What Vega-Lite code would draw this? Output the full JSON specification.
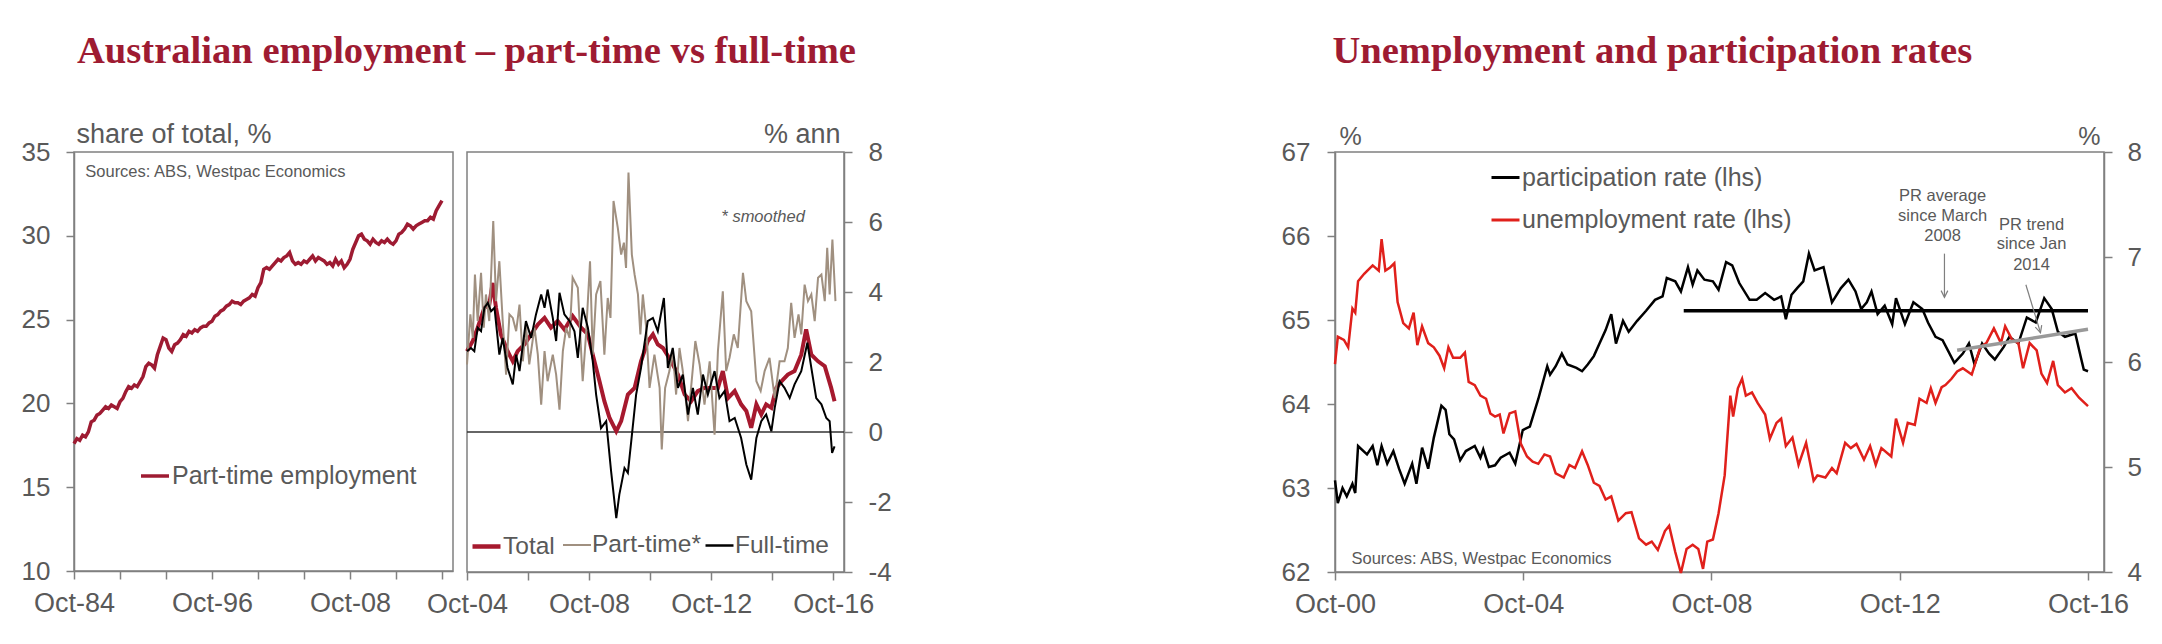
{
  "$schema": "https://vega.github.io/schema/vega-lite/v6.json",
  "background": "white",
  "padding": {"left": 20, "top": 31, "right": 5, "bottom": 5},
  "bounds": "flush",
  "spacing": 14,
  "resolve": {"scale": {"color": "independent"}, "legend": {"color": "independent"}},
  "config": {
    "font": "Liberation Sans",
    "view": {"stroke": "#808080", "strokeWidth": 1.5},
    "axis": {"grid": false, "domainColor": "#808080", "domainWidth": 1.5, "tickColor": "#808080", "tickWidth": 1.5, "tickSize": 8, "labelColor": "#595959", "titleColor": "#595959", "labelFontSize": 26, "titleFontSize": 27, "titleFontWeight": "normal", "labelFont": "Liberation Sans", "titleFont": "Liberation Sans"},
    "legend": {"labelFont": "Liberation Sans", "labelFontSize": 25, "labelColor": "#595959", "symbolType": "stroke", "symbolSize": 784, "padding": 0, "labelOffset": 1, "labelLimit": 0},
    "title": {"font": "Liberation Serif", "fontSize": 38.6, "fontWeight": "bold", "color": "#9E1B32", "anchor": "start", "frame": "group", "baseline": "alphabetic"}
  },
  "datasets": {
    "share": [
      {"s":"Part-time employment","t":1984.75,"v":17.6},{"s":"Part-time employment","t":1985.0,"v":17.9},{"s":"Part-time employment","t":1985.25,"v":17.8},{"s":"Part-time employment","t":1985.5,"v":18.1},{"s":"Part-time employment","t":1985.75,"v":18.0},{"s":"Part-time employment","t":1986.0,"v":18.3},{"s":"Part-time employment","t":1986.25,"v":18.9},{"s":"Part-time employment","t":1986.5,"v":19.0},{"s":"Part-time employment","t":1986.75,"v":19.3},{"s":"Part-time employment","t":1987.0,"v":19.4},{"s":"Part-time employment","t":1987.25,"v":19.6},{"s":"Part-time employment","t":1987.5,"v":19.8},{"s":"Part-time employment","t":1987.75,"v":19.7},{"s":"Part-time employment","t":1988.0,"v":19.9},{"s":"Part-time employment","t":1988.25,"v":19.8},{"s":"Part-time employment","t":1988.5,"v":19.7},{"s":"Part-time employment","t":1988.75,"v":20.1},{"s":"Part-time employment","t":1989.0,"v":20.3},{"s":"Part-time employment","t":1989.25,"v":20.7},{"s":"Part-time employment","t":1989.5,"v":21.0},{"s":"Part-time employment","t":1989.75,"v":20.9},{"s":"Part-time employment","t":1990.0,"v":21.1},{"s":"Part-time employment","t":1990.25,"v":21.0},{"s":"Part-time employment","t":1990.5,"v":21.3},{"s":"Part-time employment","t":1990.75,"v":21.6},{"s":"Part-time employment","t":1991.0,"v":22.2},{"s":"Part-time employment","t":1991.25,"v":22.4},{"s":"Part-time employment","t":1991.5,"v":22.3},{"s":"Part-time employment","t":1991.75,"v":22.1},{"s":"Part-time employment","t":1992.0,"v":22.9},{"s":"Part-time employment","t":1992.25,"v":23.4},{"s":"Part-time employment","t":1992.5,"v":23.9},{"s":"Part-time employment","t":1992.75,"v":23.8},{"s":"Part-time employment","t":1993.0,"v":23.3},{"s":"Part-time employment","t":1993.25,"v":23.1},{"s":"Part-time employment","t":1993.5,"v":23.5},{"s":"Part-time employment","t":1993.75,"v":23.6},{"s":"Part-time employment","t":1994.0,"v":23.8},{"s":"Part-time employment","t":1994.25,"v":24.1},{"s":"Part-time employment","t":1994.5,"v":24.0},{"s":"Part-time employment","t":1994.75,"v":24.3},{"s":"Part-time employment","t":1995.0,"v":24.2},{"s":"Part-time employment","t":1995.25,"v":24.4},{"s":"Part-time employment","t":1995.5,"v":24.3},{"s":"Part-time employment","t":1995.75,"v":24.5},{"s":"Part-time employment","t":1996.0,"v":24.6},{"s":"Part-time employment","t":1996.25,"v":24.6},{"s":"Part-time employment","t":1996.5,"v":24.8},{"s":"Part-time employment","t":1996.75,"v":24.9},{"s":"Part-time employment","t":1997.0,"v":25.2},{"s":"Part-time employment","t":1997.25,"v":25.3},{"s":"Part-time employment","t":1997.5,"v":25.5},{"s":"Part-time employment","t":1997.75,"v":25.6},{"s":"Part-time employment","t":1998.0,"v":25.8},{"s":"Part-time employment","t":1998.25,"v":25.9},{"s":"Part-time employment","t":1998.5,"v":26.1},{"s":"Part-time employment","t":1998.75,"v":26.0},{"s":"Part-time employment","t":1999.0,"v":26.0},{"s":"Part-time employment","t":1999.25,"v":25.9},{"s":"Part-time employment","t":1999.5,"v":26.1},{"s":"Part-time employment","t":1999.75,"v":26.2},{"s":"Part-time employment","t":2000.0,"v":26.3},{"s":"Part-time employment","t":2000.25,"v":26.5},{"s":"Part-time employment","t":2000.5,"v":26.4},{"s":"Part-time employment","t":2000.75,"v":26.9},{"s":"Part-time employment","t":2001.0,"v":27.2},{"s":"Part-time employment","t":2001.25,"v":28.0},{"s":"Part-time employment","t":2001.5,"v":28.1},{"s":"Part-time employment","t":2001.75,"v":28.0},{"s":"Part-time employment","t":2002.0,"v":28.2},{"s":"Part-time employment","t":2002.25,"v":28.4},{"s":"Part-time employment","t":2002.5,"v":28.6},{"s":"Part-time employment","t":2002.75,"v":28.5},{"s":"Part-time employment","t":2003.0,"v":28.7},{"s":"Part-time employment","t":2003.25,"v":28.8},{"s":"Part-time employment","t":2003.5,"v":29.0},{"s":"Part-time employment","t":2003.75,"v":28.5},{"s":"Part-time employment","t":2004.0,"v":28.3},{"s":"Part-time employment","t":2004.25,"v":28.4},{"s":"Part-time employment","t":2004.5,"v":28.3},{"s":"Part-time employment","t":2004.75,"v":28.5},{"s":"Part-time employment","t":2005.0,"v":28.4},{"s":"Part-time employment","t":2005.25,"v":28.6},{"s":"Part-time employment","t":2005.5,"v":28.8},{"s":"Part-time employment","t":2005.75,"v":28.5},{"s":"Part-time employment","t":2006.0,"v":28.7},{"s":"Part-time employment","t":2006.25,"v":28.6},{"s":"Part-time employment","t":2006.5,"v":28.5},{"s":"Part-time employment","t":2006.75,"v":28.3},{"s":"Part-time employment","t":2007.0,"v":28.4},{"s":"Part-time employment","t":2007.25,"v":28.2},{"s":"Part-time employment","t":2007.5,"v":28.6},{"s":"Part-time employment","t":2007.75,"v":28.3},{"s":"Part-time employment","t":2008.0,"v":28.5},{"s":"Part-time employment","t":2008.25,"v":28.1},{"s":"Part-time employment","t":2008.5,"v":28.3},{"s":"Part-time employment","t":2008.75,"v":28.6},{"s":"Part-time employment","t":2009.0,"v":29.2},{"s":"Part-time employment","t":2009.25,"v":29.6},{"s":"Part-time employment","t":2009.5,"v":30.0},{"s":"Part-time employment","t":2009.75,"v":30.1},{"s":"Part-time employment","t":2010.0,"v":29.8},{"s":"Part-time employment","t":2010.25,"v":29.7},{"s":"Part-time employment","t":2010.5,"v":29.5},{"s":"Part-time employment","t":2010.75,"v":29.8},{"s":"Part-time employment","t":2011.0,"v":29.6},{"s":"Part-time employment","t":2011.25,"v":29.5},{"s":"Part-time employment","t":2011.5,"v":29.7},{"s":"Part-time employment","t":2011.75,"v":29.6},{"s":"Part-time employment","t":2012.0,"v":29.8},{"s":"Part-time employment","t":2012.25,"v":29.6},{"s":"Part-time employment","t":2012.5,"v":29.5},{"s":"Part-time employment","t":2012.75,"v":29.7},{"s":"Part-time employment","t":2013.0,"v":30.1},{"s":"Part-time employment","t":2013.25,"v":30.2},{"s":"Part-time employment","t":2013.5,"v":30.4},{"s":"Part-time employment","t":2013.75,"v":30.7},{"s":"Part-time employment","t":2014.0,"v":30.6},{"s":"Part-time employment","t":2014.25,"v":30.4},{"s":"Part-time employment","t":2014.5,"v":30.6},{"s":"Part-time employment","t":2014.75,"v":30.7},{"s":"Part-time employment","t":2015.0,"v":30.8},{"s":"Part-time employment","t":2015.25,"v":30.9},{"s":"Part-time employment","t":2015.5,"v":30.9},{"s":"Part-time employment","t":2015.75,"v":31.1},{"s":"Part-time employment","t":2016.0,"v":31.0},{"s":"Part-time employment","t":2016.25,"v":31.5},{"s":"Part-time employment","t":2016.5,"v":31.8},{"s":"Part-time employment","t":2016.75,"v":32.1}
    ],
    "total": [
      {"s":"Total","t":2004.75,"v":2.31},{"s":"Total","t":2004.94,"v":2.6},{"s":"Total","t":2005.10,"v":2.98},{"s":"Total","t":2005.32,"v":3.55},{"s":"Total","t":2005.48,"v":3.64},{"s":"Total","t":2005.59,"v":4.26},{"s":"Total","t":2005.70,"v":3.55},{"s":"Total","t":2005.86,"v":2.79},{"s":"Total","t":2006.08,"v":2.31},{"s":"Total","t":2006.25,"v":2.02},{"s":"Total","t":2006.41,"v":2.31},{"s":"Total","t":2006.63,"v":2.5},{"s":"Total","t":2006.85,"v":2.79},{"s":"Total","t":2007.07,"v":3.07},{"s":"Total","t":2007.29,"v":3.26},{"s":"Total","t":2007.50,"v":2.98},{"s":"Total","t":2007.72,"v":3.17},{"s":"Total","t":2007.94,"v":2.93},{"s":"Total","t":2008.21,"v":3.31},{"s":"Total","t":2008.49,"v":2.98},{"s":"Total","t":2008.71,"v":2.79},{"s":"Total","t":2008.87,"v":2.21},{"s":"Total","t":2009.09,"v":1.45},{"s":"Total","t":2009.25,"v":0.88},{"s":"Total","t":2009.42,"v":0.4},{"s":"Total","t":2009.64,"v":0.02},{"s":"Total","t":2009.80,"v":0.31},{"s":"Total","t":2010.02,"v":1.07},{"s":"Total","t":2010.24,"v":1.26},{"s":"Total","t":2010.45,"v":2.02},{"s":"Total","t":2010.67,"v":2.59},{"s":"Total","t":2010.84,"v":2.79},{"s":"Total","t":2011.00,"v":2.5},{"s":"Total","t":2011.17,"v":2.4},{"s":"Total","t":2011.44,"v":2.02},{"s":"Total","t":2011.66,"v":1.64},{"s":"Total","t":2011.88,"v":1.07},{"s":"Total","t":2012.09,"v":0.88},{"s":"Total","t":2012.31,"v":1.17},{"s":"Total","t":2012.53,"v":1.26},{"s":"Total","t":2012.75,"v":1.26},{"s":"Total","t":2012.97,"v":1.26},{"s":"Total","t":2013.13,"v":1.74},{"s":"Total","t":2013.30,"v":0.97},{"s":"Total","t":2013.52,"v":1.17},{"s":"Total","t":2013.73,"v":0.79},{"s":"Total","t":2013.90,"v":0.6},{"s":"Total","t":2014.06,"v":0.12},{"s":"Total","t":2014.23,"v":0.79},{"s":"Total","t":2014.39,"v":0.5},{"s":"Total","t":2014.55,"v":0.79},{"s":"Total","t":2014.72,"v":0.69},{"s":"Total","t":2014.88,"v":1.26},{"s":"Total","t":2015.05,"v":1.45},{"s":"Total","t":2015.26,"v":1.64},{"s":"Total","t":2015.48,"v":1.74},{"s":"Total","t":2015.70,"v":2.21},{"s":"Total","t":2015.86,"v":2.93},{"s":"Total","t":2016.03,"v":2.21},{"s":"Total","t":2016.25,"v":2.02},{"s":"Total","t":2016.47,"v":1.88},{"s":"Total","t":2016.68,"v":1.26},{"s":"Total","t":2016.79,"v":0.88}
    ],
    "parttime": [
      {"s":"Part-time*","t":2004.75,"v":1.93},{"s":"Part-time*","t":2004.86,"v":3.36},{"s":"Part-time*","t":2004.94,"v":2.69},{"s":"Part-time*","t":2005.01,"v":4.5},{"s":"Part-time*","t":2005.10,"v":3.17},{"s":"Part-time*","t":2005.21,"v":4.55},{"s":"Part-time*","t":2005.30,"v":2.98},{"s":"Part-time*","t":2005.37,"v":3.93},{"s":"Part-time*","t":2005.48,"v":3.17},{"s":"Part-time*","t":2005.61,"v":6.03},{"s":"Part-time*","t":2005.70,"v":3.74},{"s":"Part-time*","t":2005.81,"v":4.88},{"s":"Part-time*","t":2005.92,"v":3.17},{"s":"Part-time*","t":2006.03,"v":1.64},{"s":"Part-time*","t":2006.14,"v":3.36},{"s":"Part-time*","t":2006.25,"v":3.26},{"s":"Part-time*","t":2006.36,"v":2.88},{"s":"Part-time*","t":2006.47,"v":3.64},{"s":"Part-time*","t":2006.58,"v":2.02},{"s":"Part-time*","t":2006.68,"v":3.07},{"s":"Part-time*","t":2006.79,"v":1.93},{"s":"Part-time*","t":2006.96,"v":2.98},{"s":"Part-time*","t":2007.07,"v":2.21},{"s":"Part-time*","t":2007.18,"v":0.78},{"s":"Part-time*","t":2007.29,"v":2.31},{"s":"Part-time*","t":2007.39,"v":1.45},{"s":"Part-time*","t":2007.56,"v":2.21},{"s":"Part-time*","t":2007.67,"v":1.64},{"s":"Part-time*","t":2007.78,"v":0.64},{"s":"Part-time*","t":2007.89,"v":2.31},{"s":"Part-time*","t":2008.00,"v":2.98},{"s":"Part-time*","t":2008.11,"v":2.69},{"s":"Part-time*","t":2008.21,"v":4.41},{"s":"Part-time*","t":2008.38,"v":4.12},{"s":"Part-time*","t":2008.54,"v":1.45},{"s":"Part-time*","t":2008.65,"v":2.79},{"s":"Part-time*","t":2008.78,"v":4.88},{"s":"Part-time*","t":2008.87,"v":2.21},{"s":"Part-time*","t":2008.98,"v":3.93},{"s":"Part-time*","t":2009.12,"v":4.31},{"s":"Part-time*","t":2009.25,"v":2.21},{"s":"Part-time*","t":2009.36,"v":3.83},{"s":"Part-time*","t":2009.45,"v":3.26},{"s":"Part-time*","t":2009.55,"v":6.6},{"s":"Part-time*","t":2009.69,"v":5.83},{"s":"Part-time*","t":2009.80,"v":5.07},{"s":"Part-time*","t":2009.89,"v":5.41},{"s":"Part-time*","t":2009.96,"v":4.69},{"s":"Part-time*","t":2010.04,"v":7.41},{"s":"Part-time*","t":2010.15,"v":5.07},{"s":"Part-time*","t":2010.24,"v":4.5},{"s":"Part-time*","t":2010.35,"v":3.93},{"s":"Part-time*","t":2010.43,"v":2.79},{"s":"Part-time*","t":2010.51,"v":3.93},{"s":"Part-time*","t":2010.62,"v":2.98},{"s":"Part-time*","t":2010.73,"v":1.26},{"s":"Part-time*","t":2010.89,"v":2.21},{"s":"Part-time*","t":2011.06,"v":1.26},{"s":"Part-time*","t":2011.13,"v":-0.5},{"s":"Part-time*","t":2011.24,"v":1.26},{"s":"Part-time*","t":2011.38,"v":1.74},{"s":"Part-time*","t":2011.49,"v":2.31},{"s":"Part-time*","t":2011.60,"v":1.07},{"s":"Part-time*","t":2011.71,"v":2.4},{"s":"Part-time*","t":2011.82,"v":1.74},{"s":"Part-time*","t":2011.99,"v":0.31},{"s":"Part-time*","t":2012.09,"v":1.26},{"s":"Part-time*","t":2012.23,"v":2.6},{"s":"Part-time*","t":2012.37,"v":1.93},{"s":"Part-time*","t":2012.53,"v":0.78},{"s":"Part-time*","t":2012.70,"v":2.02},{"s":"Part-time*","t":2012.86,"v":-0.08},{"s":"Part-time*","t":2012.97,"v":2.31},{"s":"Part-time*","t":2013.13,"v":4.02},{"s":"Part-time*","t":2013.24,"v":1.74},{"s":"Part-time*","t":2013.35,"v":2.12},{"s":"Part-time*","t":2013.49,"v":2.79},{"s":"Part-time*","t":2013.62,"v":2.4},{"s":"Part-time*","t":2013.79,"v":4.55},{"s":"Part-time*","t":2013.90,"v":3.74},{"s":"Part-time*","t":2014.06,"v":3.45},{"s":"Part-time*","t":2014.23,"v":1.45},{"s":"Part-time*","t":2014.37,"v":1.17},{"s":"Part-time*","t":2014.50,"v":1.74},{"s":"Part-time*","t":2014.66,"v":2.12},{"s":"Part-time*","t":2014.83,"v":0.97},{"s":"Part-time*","t":2014.99,"v":2.02},{"s":"Part-time*","t":2015.15,"v":2.02},{"s":"Part-time*","t":2015.26,"v":2.4},{"s":"Part-time*","t":2015.37,"v":3.69},{"s":"Part-time*","t":2015.48,"v":2.69},{"s":"Part-time*","t":2015.61,"v":3.36},{"s":"Part-time*","t":2015.70,"v":2.79},{"s":"Part-time*","t":2015.81,"v":4.21},{"s":"Part-time*","t":2015.92,"v":3.74},{"s":"Part-time*","t":2016.03,"v":3.93},{"s":"Part-time*","t":2016.14,"v":3.17},{"s":"Part-time*","t":2016.25,"v":4.41},{"s":"Part-time*","t":2016.36,"v":4.5},{"s":"Part-time*","t":2016.47,"v":3.74},{"s":"Part-time*","t":2016.55,"v":5.26},{"s":"Part-time*","t":2016.63,"v":3.93},{"s":"Part-time*","t":2016.72,"v":5.5},{"s":"Part-time*","t":2016.82,"v":3.74}
    ],
    "fulltime": [
      {"s":"Full-time","t":2004.75,"v":2.31},{"s":"Full-time","t":2004.88,"v":2.4},{"s":"Full-time","t":2004.99,"v":2.31},{"s":"Full-time","t":2005.10,"v":2.98},{"s":"Full-time","t":2005.21,"v":2.88},{"s":"Full-time","t":2005.32,"v":3.55},{"s":"Full-time","t":2005.43,"v":3.69},{"s":"Full-time","t":2005.54,"v":3.45},{"s":"Full-time","t":2005.65,"v":3.55},{"s":"Full-time","t":2005.81,"v":2.21},{"s":"Full-time","t":2005.92,"v":2.69},{"s":"Full-time","t":2006.08,"v":1.83},{"s":"Full-time","t":2006.25,"v":1.36},{"s":"Full-time","t":2006.36,"v":2.21},{"s":"Full-time","t":2006.47,"v":1.74},{"s":"Full-time","t":2006.68,"v":3.17},{"s":"Full-time","t":2006.85,"v":2.69},{"s":"Full-time","t":2007.01,"v":3.36},{"s":"Full-time","t":2007.18,"v":3.93},{"s":"Full-time","t":2007.29,"v":3.55},{"s":"Full-time","t":2007.39,"v":4.07},{"s":"Full-time","t":2007.56,"v":3.26},{"s":"Full-time","t":2007.67,"v":2.6},{"s":"Full-time","t":2007.78,"v":3.98},{"s":"Full-time","t":2007.94,"v":3.36},{"s":"Full-time","t":2008.11,"v":3.17},{"s":"Full-time","t":2008.27,"v":2.88},{"s":"Full-time","t":2008.38,"v":2.12},{"s":"Full-time","t":2008.54,"v":3.55},{"s":"Full-time","t":2008.71,"v":2.98},{"s":"Full-time","t":2008.87,"v":2.02},{"s":"Full-time","t":2008.98,"v":1.07},{"s":"Full-time","t":2009.14,"v":0.11},{"s":"Full-time","t":2009.31,"v":0.31},{"s":"Full-time","t":2009.47,"v":-1.12},{"s":"Full-time","t":2009.64,"v":-2.46},{"s":"Full-time","t":2009.74,"v":-1.79},{"s":"Full-time","t":2009.91,"v":-1.03},{"s":"Full-time","t":2010.02,"v":-1.17},{"s":"Full-time","t":2010.13,"v":-0.27},{"s":"Full-time","t":2010.29,"v":1.07},{"s":"Full-time","t":2010.45,"v":1.83},{"s":"Full-time","t":2010.67,"v":3.17},{"s":"Full-time","t":2010.84,"v":3.26},{"s":"Full-time","t":2011.00,"v":2.88},{"s":"Full-time","t":2011.20,"v":3.83},{"s":"Full-time","t":2011.33,"v":1.83},{"s":"Full-time","t":2011.49,"v":2.4},{"s":"Full-time","t":2011.66,"v":1.26},{"s":"Full-time","t":2011.82,"v":1.64},{"s":"Full-time","t":2011.99,"v":0.5},{"s":"Full-time","t":2012.15,"v":1.26},{"s":"Full-time","t":2012.31,"v":0.5},{"s":"Full-time","t":2012.48,"v":1.64},{"s":"Full-time","t":2012.64,"v":1.07},{"s":"Full-time","t":2012.86,"v":1.74},{"s":"Full-time","t":2013.02,"v":0.97},{"s":"Full-time","t":2013.19,"v":1.17},{"s":"Full-time","t":2013.35,"v":0.31},{"s":"Full-time","t":2013.52,"v":0.4},{"s":"Full-time","t":2013.73,"v":-0.17},{"s":"Full-time","t":2013.90,"v":-0.93},{"s":"Full-time","t":2014.06,"v":-1.36},{"s":"Full-time","t":2014.23,"v":-0.17},{"s":"Full-time","t":2014.39,"v":0.31},{"s":"Full-time","t":2014.55,"v":0.5},{"s":"Full-time","t":2014.72,"v":0.02},{"s":"Full-time","t":2014.83,"v":0.69},{"s":"Full-time","t":2014.99,"v":1.45},{"s":"Full-time","t":2015.15,"v":1.26},{"s":"Full-time","t":2015.32,"v":0.97},{"s":"Full-time","t":2015.48,"v":1.36},{"s":"Full-time","t":2015.70,"v":1.74},{"s":"Full-time","t":2015.90,"v":2.55},{"s":"Full-time","t":2016.03,"v":1.83},{"s":"Full-time","t":2016.19,"v":0.97},{"s":"Full-time","t":2016.36,"v":0.79},{"s":"Full-time","t":2016.52,"v":0.4},{"s":"Full-time","t":2016.63,"v":0.31},{"s":"Full-time","t":2016.71,"v":-0.6},{"s":"Full-time","t":2016.79,"v":-0.41}
    ],
    "pr": [
      {"s":"participation rate (lhs)","t":2000.75,"v":63.09},{"s":"participation rate (lhs)","t":2000.81,"v":62.82},{"s":"participation rate (lhs)","t":2000.91,"v":63.0},{"s":"participation rate (lhs)","t":2001.00,"v":62.9},{"s":"participation rate (lhs)","t":2001.12,"v":63.05},{"s":"participation rate (lhs)","t":2001.18,"v":62.94},{"s":"participation rate (lhs)","t":2001.24,"v":63.5},{"s":"participation rate (lhs)","t":2001.43,"v":63.4},{"s":"participation rate (lhs)","t":2001.55,"v":63.5},{"s":"participation rate (lhs)","t":2001.65,"v":63.27},{"s":"participation rate (lhs)","t":2001.74,"v":63.5},{"s":"participation rate (lhs)","t":2001.86,"v":63.29},{"s":"participation rate (lhs)","t":2001.99,"v":63.44},{"s":"participation rate (lhs)","t":2002.11,"v":63.23},{"s":"participation rate (lhs)","t":2002.23,"v":63.05},{"s":"participation rate (lhs)","t":2002.39,"v":63.29},{"s":"participation rate (lhs)","t":2002.48,"v":63.05},{"s":"participation rate (lhs)","t":2002.60,"v":63.48},{"s":"participation rate (lhs)","t":2002.73,"v":63.23},{"s":"participation rate (lhs)","t":2002.85,"v":63.6},{"s":"participation rate (lhs)","t":2003.01,"v":63.98},{"s":"participation rate (lhs)","t":2003.10,"v":63.93},{"s":"participation rate (lhs)","t":2003.18,"v":63.64},{"s":"participation rate (lhs)","t":2003.28,"v":63.58},{"s":"participation rate (lhs)","t":2003.41,"v":63.33},{"s":"participation rate (lhs)","t":2003.53,"v":63.44},{"s":"participation rate (lhs)","t":2003.72,"v":63.5},{"s":"participation rate (lhs)","t":2003.84,"v":63.36},{"s":"participation rate (lhs)","t":2003.90,"v":63.46},{"s":"participation rate (lhs)","t":2004.02,"v":63.25},{"s":"participation rate (lhs)","t":2004.15,"v":63.27},{"s":"participation rate (lhs)","t":2004.27,"v":63.36},{"s":"participation rate (lhs)","t":2004.46,"v":63.42},{"s":"participation rate (lhs)","t":2004.58,"v":63.29},{"s":"participation rate (lhs)","t":2004.74,"v":63.69},{"s":"participation rate (lhs)","t":2004.89,"v":63.73},{"s":"participation rate (lhs)","t":2005.07,"v":64.06},{"s":"participation rate (lhs)","t":2005.26,"v":64.45},{"s":"participation rate (lhs)","t":2005.32,"v":64.35},{"s":"participation rate (lhs)","t":2005.44,"v":64.45},{"s":"participation rate (lhs)","t":2005.57,"v":64.6},{"s":"participation rate (lhs)","t":2005.69,"v":64.47},{"s":"participation rate (lhs)","t":2005.88,"v":64.43},{"s":"participation rate (lhs)","t":2006.00,"v":64.39},{"s":"participation rate (lhs)","t":2006.12,"v":64.47},{"s":"participation rate (lhs)","t":2006.25,"v":64.57},{"s":"participation rate (lhs)","t":2006.37,"v":64.72},{"s":"participation rate (lhs)","t":2006.50,"v":64.88},{"s":"participation rate (lhs)","t":2006.62,"v":65.07},{"s":"participation rate (lhs)","t":2006.72,"v":64.72},{"s":"participation rate (lhs)","t":2006.87,"v":64.99},{"s":"participation rate (lhs)","t":2006.99,"v":64.86},{"s":"participation rate (lhs)","t":2007.17,"v":64.99},{"s":"participation rate (lhs)","t":2007.36,"v":65.11},{"s":"participation rate (lhs)","t":2007.55,"v":65.24},{"s":"participation rate (lhs)","t":2007.71,"v":65.28},{"s":"participation rate (lhs)","t":2007.80,"v":65.5},{"s":"participation rate (lhs)","t":2007.98,"v":65.46},{"s":"participation rate (lhs)","t":2008.10,"v":65.34},{"s":"participation rate (lhs)","t":2008.25,"v":65.63},{"s":"participation rate (lhs)","t":2008.35,"v":65.42},{"s":"participation rate (lhs)","t":2008.45,"v":65.59},{"s":"participation rate (lhs)","t":2008.60,"v":65.48},{"s":"participation rate (lhs)","t":2008.78,"v":65.46},{"s":"participation rate (lhs)","t":2008.90,"v":65.36},{"s":"participation rate (lhs)","t":2009.06,"v":65.69},{"s":"participation rate (lhs)","t":2009.19,"v":65.65},{"s":"participation rate (lhs)","t":2009.34,"v":65.44},{"s":"participation rate (lhs)","t":2009.56,"v":65.24},{"s":"participation rate (lhs)","t":2009.71,"v":65.24},{"s":"participation rate (lhs)","t":2009.89,"v":65.32},{"s":"participation rate (lhs)","t":2010.08,"v":65.24},{"s":"participation rate (lhs)","t":2010.23,"v":65.28},{"s":"participation rate (lhs)","t":2010.33,"v":65.01},{"s":"participation rate (lhs)","t":2010.45,"v":65.3},{"s":"participation rate (lhs)","t":2010.57,"v":65.38},{"s":"participation rate (lhs)","t":2010.70,"v":65.46},{"s":"participation rate (lhs)","t":2010.82,"v":65.79},{"s":"participation rate (lhs)","t":2010.94,"v":65.59},{"s":"participation rate (lhs)","t":2011.13,"v":65.63},{"s":"participation rate (lhs)","t":2011.31,"v":65.21},{"s":"participation rate (lhs)","t":2011.50,"v":65.38},{"s":"participation rate (lhs)","t":2011.66,"v":65.48},{"s":"participation rate (lhs)","t":2011.81,"v":65.34},{"s":"participation rate (lhs)","t":2011.93,"v":65.13},{"s":"participation rate (lhs)","t":2012.05,"v":65.21},{"s":"participation rate (lhs)","t":2012.15,"v":65.34},{"s":"participation rate (lhs)","t":2012.28,"v":65.07},{"s":"participation rate (lhs)","t":2012.43,"v":65.17},{"s":"participation rate (lhs)","t":2012.59,"v":64.95},{"s":"participation rate (lhs)","t":2012.67,"v":65.26},{"s":"participation rate (lhs)","t":2012.86,"v":64.95},{"s":"participation rate (lhs)","t":2013.04,"v":65.21},{"s":"participation rate (lhs)","t":2013.23,"v":65.13},{"s":"participation rate (lhs)","t":2013.35,"v":64.97},{"s":"participation rate (lhs)","t":2013.51,"v":64.8},{"s":"participation rate (lhs)","t":2013.66,"v":64.76},{"s":"participation rate (lhs)","t":2013.91,"v":64.49},{"s":"participation rate (lhs)","t":2014.09,"v":64.6},{"s":"participation rate (lhs)","t":2014.22,"v":64.72},{"s":"participation rate (lhs)","t":2014.34,"v":64.47},{"s":"participation rate (lhs)","t":2014.50,"v":64.72},{"s":"participation rate (lhs)","t":2014.65,"v":64.6},{"s":"participation rate (lhs)","t":2014.77,"v":64.53},{"s":"participation rate (lhs)","t":2014.96,"v":64.68},{"s":"participation rate (lhs)","t":2015.08,"v":64.8},{"s":"participation rate (lhs)","t":2015.27,"v":64.72},{"s":"participation rate (lhs)","t":2015.45,"v":65.03},{"s":"participation rate (lhs)","t":2015.64,"v":64.97},{"s":"participation rate (lhs)","t":2015.82,"v":65.26},{"s":"participation rate (lhs)","t":2015.98,"v":65.13},{"s":"participation rate (lhs)","t":2016.11,"v":64.86},{"s":"participation rate (lhs)","t":2016.26,"v":64.8},{"s":"participation rate (lhs)","t":2016.48,"v":64.84},{"s":"participation rate (lhs)","t":2016.60,"v":64.55},{"s":"participation rate (lhs)","t":2016.66,"v":64.41},{"s":"participation rate (lhs)","t":2016.75,"v":64.39}
    ],
    "ur": [
      {"s":"unemployment rate (lhs)","t":2000.75,"v":5.98},{"s":"unemployment rate (lhs)","t":2000.81,"v":6.24},{"s":"unemployment rate (lhs)","t":2000.94,"v":6.21},{"s":"unemployment rate (lhs)","t":2001.03,"v":6.14},{"s":"unemployment rate (lhs)","t":2001.12,"v":6.51},{"s":"unemployment rate (lhs)","t":2001.18,"v":6.47},{"s":"unemployment rate (lhs)","t":2001.24,"v":6.77},{"s":"unemployment rate (lhs)","t":2001.37,"v":6.84},{"s":"unemployment rate (lhs)","t":2001.55,"v":6.92},{"s":"unemployment rate (lhs)","t":2001.68,"v":6.87},{"s":"unemployment rate (lhs)","t":2001.74,"v":7.17},{"s":"unemployment rate (lhs)","t":2001.82,"v":6.87},{"s":"unemployment rate (lhs)","t":2001.92,"v":6.9},{"s":"unemployment rate (lhs)","t":2002.01,"v":6.94},{"s":"unemployment rate (lhs)","t":2002.08,"v":6.57},{"s":"unemployment rate (lhs)","t":2002.20,"v":6.37},{"s":"unemployment rate (lhs)","t":2002.32,"v":6.32},{"s":"unemployment rate (lhs)","t":2002.42,"v":6.47},{"s":"unemployment rate (lhs)","t":2002.50,"v":6.16},{"s":"unemployment rate (lhs)","t":2002.60,"v":6.34},{"s":"unemployment rate (lhs)","t":2002.73,"v":6.18},{"s":"unemployment rate (lhs)","t":2002.85,"v":6.14},{"s":"unemployment rate (lhs)","t":2002.97,"v":6.06},{"s":"unemployment rate (lhs)","t":2003.07,"v":5.94},{"s":"unemployment rate (lhs)","t":2003.16,"v":6.14},{"s":"unemployment rate (lhs)","t":2003.26,"v":6.04},{"s":"unemployment rate (lhs)","t":2003.41,"v":6.04},{"s":"unemployment rate (lhs)","t":2003.51,"v":6.09},{"s":"unemployment rate (lhs)","t":2003.59,"v":5.81},{"s":"unemployment rate (lhs)","t":2003.72,"v":5.78},{"s":"unemployment rate (lhs)","t":2003.84,"v":5.68},{"s":"unemployment rate (lhs)","t":2003.96,"v":5.65},{"s":"unemployment rate (lhs)","t":2004.05,"v":5.51},{"s":"unemployment rate (lhs)","t":2004.15,"v":5.48},{"s":"unemployment rate (lhs)","t":2004.25,"v":5.5},{"s":"unemployment rate (lhs)","t":2004.33,"v":5.32},{"s":"unemployment rate (lhs)","t":2004.46,"v":5.51},{"s":"unemployment rate (lhs)","t":2004.58,"v":5.53},{"s":"unemployment rate (lhs)","t":2004.70,"v":5.22},{"s":"unemployment rate (lhs)","t":2004.83,"v":5.1},{"s":"unemployment rate (lhs)","t":2004.95,"v":5.05},{"s":"unemployment rate (lhs)","t":2005.07,"v":5.03},{"s":"unemployment rate (lhs)","t":2005.20,"v":5.12},{"s":"unemployment rate (lhs)","t":2005.32,"v":5.1},{"s":"unemployment rate (lhs)","t":2005.44,"v":4.94},{"s":"unemployment rate (lhs)","t":2005.61,"v":4.9},{"s":"unemployment rate (lhs)","t":2005.73,"v":5.02},{"s":"unemployment rate (lhs)","t":2005.85,"v":4.99},{"s":"unemployment rate (lhs)","t":2006.00,"v":5.15},{"s":"unemployment rate (lhs)","t":2006.12,"v":5.02},{"s":"unemployment rate (lhs)","t":2006.25,"v":4.85},{"s":"unemployment rate (lhs)","t":2006.37,"v":4.82},{"s":"unemployment rate (lhs)","t":2006.50,"v":4.69},{"s":"unemployment rate (lhs)","t":2006.62,"v":4.72},{"s":"unemployment rate (lhs)","t":2006.77,"v":4.49},{"s":"unemployment rate (lhs)","t":2006.93,"v":4.56},{"s":"unemployment rate (lhs)","t":2007.05,"v":4.57},{"s":"unemployment rate (lhs)","t":2007.21,"v":4.32},{"s":"unemployment rate (lhs)","t":2007.36,"v":4.26},{"s":"unemployment rate (lhs)","t":2007.48,"v":4.29},{"s":"unemployment rate (lhs)","t":2007.61,"v":4.21},{"s":"unemployment rate (lhs)","t":2007.76,"v":4.39},{"s":"unemployment rate (lhs)","t":2007.85,"v":4.44},{"s":"unemployment rate (lhs)","t":2007.98,"v":4.19},{"s":"unemployment rate (lhs)","t":2008.10,"v":3.99},{"s":"unemployment rate (lhs)","t":2008.22,"v":4.22},{"s":"unemployment rate (lhs)","t":2008.35,"v":4.26},{"s":"unemployment rate (lhs)","t":2008.47,"v":4.22},{"s":"unemployment rate (lhs)","t":2008.57,"v":4.03},{"s":"unemployment rate (lhs)","t":2008.66,"v":4.29},{"s":"unemployment rate (lhs)","t":2008.78,"v":4.31},{"s":"unemployment rate (lhs)","t":2008.90,"v":4.56},{"s":"unemployment rate (lhs)","t":2009.03,"v":4.92},{"s":"unemployment rate (lhs)","t":2009.15,"v":5.68},{"s":"unemployment rate (lhs)","t":2009.21,"v":5.48},{"s":"unemployment rate (lhs)","t":2009.31,"v":5.75},{"s":"unemployment rate (lhs)","t":2009.40,"v":5.84},{"s":"unemployment rate (lhs)","t":2009.48,"v":5.68},{"s":"unemployment rate (lhs)","t":2009.61,"v":5.71},{"s":"unemployment rate (lhs)","t":2009.73,"v":5.61},{"s":"unemployment rate (lhs)","t":2009.89,"v":5.5},{"s":"unemployment rate (lhs)","t":2009.99,"v":5.27},{"s":"unemployment rate (lhs)","t":2010.13,"v":5.42},{"s":"unemployment rate (lhs)","t":2010.23,"v":5.46},{"s":"unemployment rate (lhs)","t":2010.33,"v":5.2},{"s":"unemployment rate (lhs)","t":2010.47,"v":5.28},{"s":"unemployment rate (lhs)","t":2010.60,"v":5.02},{"s":"unemployment rate (lhs)","t":2010.76,"v":5.23},{"s":"unemployment rate (lhs)","t":2010.92,"v":4.87},{"s":"unemployment rate (lhs)","t":2011.00,"v":4.92},{"s":"unemployment rate (lhs)","t":2011.17,"v":4.9},{"s":"unemployment rate (lhs)","t":2011.31,"v":4.99},{"s":"unemployment rate (lhs)","t":2011.41,"v":4.94},{"s":"unemployment rate (lhs)","t":2011.59,"v":5.23},{"s":"unemployment rate (lhs)","t":2011.71,"v":5.18},{"s":"unemployment rate (lhs)","t":2011.83,"v":5.22},{"s":"unemployment rate (lhs)","t":2011.99,"v":5.07},{"s":"unemployment rate (lhs)","t":2012.12,"v":5.2},{"s":"unemployment rate (lhs)","t":2012.24,"v":5.02},{"s":"unemployment rate (lhs)","t":2012.36,"v":5.18},{"s":"unemployment rate (lhs)","t":2012.57,"v":5.1},{"s":"unemployment rate (lhs)","t":2012.67,"v":5.46},{"s":"unemployment rate (lhs)","t":2012.82,"v":5.23},{"s":"unemployment rate (lhs)","t":2012.92,"v":5.42},{"s":"unemployment rate (lhs)","t":2013.07,"v":5.4},{"s":"unemployment rate (lhs)","t":2013.17,"v":5.65},{"s":"unemployment rate (lhs)","t":2013.32,"v":5.61},{"s":"unemployment rate (lhs)","t":2013.41,"v":5.75},{"s":"unemployment rate (lhs)","t":2013.51,"v":5.61},{"s":"unemployment rate (lhs)","t":2013.64,"v":5.76},{"s":"unemployment rate (lhs)","t":2013.72,"v":5.78},{"s":"unemployment rate (lhs)","t":2013.85,"v":5.84},{"s":"unemployment rate (lhs)","t":2013.97,"v":5.91},{"s":"unemployment rate (lhs)","t":2014.09,"v":5.94},{"s":"unemployment rate (lhs)","t":2014.28,"v":5.88},{"s":"unemployment rate (lhs)","t":2014.46,"v":6.14},{"s":"unemployment rate (lhs)","t":2014.59,"v":6.18},{"s":"unemployment rate (lhs)","t":2014.75,"v":6.32},{"s":"unemployment rate (lhs)","t":2014.90,"v":6.18},{"s":"unemployment rate (lhs)","t":2014.99,"v":6.34},{"s":"unemployment rate (lhs)","t":2015.14,"v":6.21},{"s":"unemployment rate (lhs)","t":2015.27,"v":6.18},{"s":"unemployment rate (lhs)","t":2015.37,"v":5.94},{"s":"unemployment rate (lhs)","t":2015.51,"v":6.18},{"s":"unemployment rate (lhs)","t":2015.66,"v":6.11},{"s":"unemployment rate (lhs)","t":2015.76,"v":5.89},{"s":"unemployment rate (lhs)","t":2015.88,"v":5.8},{"s":"unemployment rate (lhs)","t":2016.01,"v":6.01},{"s":"unemployment rate (lhs)","t":2016.11,"v":5.78},{"s":"unemployment rate (lhs)","t":2016.26,"v":5.71},{"s":"unemployment rate (lhs)","t":2016.40,"v":5.75},{"s":"unemployment rate (lhs)","t":2016.56,"v":5.66},{"s":"unemployment rate (lhs)","t":2016.75,"v":5.58}
    ]
  },
  "hconcat": [
    {
      "width": 379,
      "height": 419,
      "title": {"text": "Australian employment – part-time vs full-time", "offset": 48.5, "dx": 3},
      "layer": [
        {
          "data": {"name": "share"},
          "mark": {"type": "line", "strokeWidth": 3.5},
          "encoding": {
            "x": {"field": "t", "type": "quantitative", "scale": {"domain": [1984.75, 2017.71], "nice": false, "zero": false},
              "axis": {"values": [1984.75, 1988.75, 1992.75, 1996.75, 2000.75, 2004.75, 2008.75, 2012.75, 2016.75], "labelExpr": "(floor(datum.value) - 1984) % 12 === 0 ? 'Oct-' + slice(toString(floor(datum.value)), 2) : ''", "title": null, "labelPadding": 11, "labelFontSize": 27, "labelFlush": false}},
            "y": {"field": "v", "type": "quantitative", "scale": {"domain": [10, 35], "nice": false, "zero": false},
              "axis": {"values": [10, 15, 20, 25, 30, 35], "title": "share of total, %", "titleAngle": 0, "titleAlign": "left", "titleBaseline": "alphabetic", "titleX": 2, "titleY": -10, "labelPadding": 16}},
            "color": {"field": "s", "type": "nominal", "scale": {"domain": ["Part-time employment"], "range": ["#9E1B32"]},
              "legend": {"orient": "none", "legendX": 65, "legendY": 308, "title": null, "symbolStrokeWidth": 3.5}}
          }
        },
        {
          "data": {"values": [{"t": 1985.73, "v": 33.79, "txt": "Sources: ABS, Westpac Economics"}]},
          "mark": {"type": "text", "align": "left", "baseline": "middle", "fontSize": 16.5, "color": "#595959"},
          "encoding": {"x": {"field": "t", "type": "quantitative"}, "y": {"field": "v", "type": "quantitative"}, "text": {"field": "txt"}}
        }
      ]
    },
    {
      "width": 377,
      "height": 420,
      "resolve": {"scale": {"color": "independent"}, "legend": {"color": "independent"}},
      "layer": [
        {
          "data": {"values": [{"v": 0}]},
          "mark": {"type": "rule", "color": "#333333", "strokeWidth": 1.5},
          "encoding": {
            "y": {"field": "v", "type": "quantitative", "scale": {"domain": [-4, 8], "nice": false, "zero": false},
              "axis": {"orient": "right", "values": [-4, -3, -2, -1, 0, 1, 2, 3, 4, 5, 6, 7, 8], "labelExpr": "datum.value % 2 === 0 ? toString(datum.value) : ''", "title": "% ann", "titleAngle": 0, "titleAlign": "right", "titleBaseline": "alphabetic", "titleX": -4, "titleY": -10, "labelPadding": 16}}
          }
        },
        {
          "data": {"name": "total"},
          "mark": {"type": "line", "strokeWidth": 4},
          "encoding": {
            "x": {"field": "t", "type": "quantitative", "scale": {"domain": [2004.75, 2017.1], "nice": false, "zero": false},
              "axis": {"values": [2004.75, 2006.75, 2008.75, 2010.75, 2012.75, 2014.75, 2016.75], "labelExpr": "(floor(datum.value) - 2004) % 4 === 0 ? 'Oct-' + slice(toString(floor(datum.value)), 2) : ''", "title": null, "labelPadding": 11, "labelFontSize": 27, "labelFlush": false}},
            "y": {"field": "v", "type": "quantitative"},
            "color": {"field": "s", "type": "nominal", "scale": {"domain": ["Total"], "range": ["#A6192E"]},
              "legend": {"orient": "none", "legendX": 3, "legendY": 378, "title": null, "labelOffset": 0, "labelFontSize": 24.5, "symbolStrokeWidth": 4.5}}
          }
        },
        {
          "data": {"name": "parttime"},
          "mark": {"type": "line", "strokeWidth": 2},
          "encoding": {
            "x": {"field": "t", "type": "quantitative"},
            "y": {"field": "v", "type": "quantitative"},
            "color": {"field": "s", "type": "nominal", "scale": {"domain": ["Part-time*"], "range": ["#A09080"]},
              "legend": {"orient": "none", "legendX": 95, "legendY": 378, "title": null, "labelOffset": 0, "labelFontSize": 24.5, "symbolStrokeWidth": 2}}
          }
        },
        {
          "data": {"name": "fulltime"},
          "mark": {"type": "line", "strokeWidth": 2},
          "encoding": {
            "x": {"field": "t", "type": "quantitative"},
            "y": {"field": "v", "type": "quantitative"},
            "color": {"field": "s", "type": "nominal", "scale": {"domain": ["Full-time"], "range": ["#000000"]},
              "legend": {"orient": "none", "legendX": 237, "legendY": 378, "title": null, "labelOffset": 0, "labelFontSize": 24.5, "symbolStrokeWidth": 2.5}}
          }
        },
        {
          "data": {"values": [{"t": 2014.45, "v": 6.15, "txt": "* smoothed"}]},
          "mark": {"type": "text", "align": "center", "baseline": "middle", "fontSize": 16.5, "fontStyle": "italic", "color": "#595959"},
          "encoding": {"x": {"field": "t", "type": "quantitative"}, "y": {"field": "v", "type": "quantitative"}, "text": {"field": "txt"}}
        }
      ]
    },
    {
      "width": 463,
      "height": 420,
      "view": {"stroke": null},
      "data": {"values": [{}]},
      "mark": {"type": "point", "opacity": 0}
    },
    {
      "width": 769,
      "height": 420,
      "title": {"text": "Unemployment and participation rates", "offset": 52.5, "dx": -2.6},
      "resolve": {"scale": {"y": "independent"}},
      "layer": [
        {
          "data": {"name": "pr"},
          "mark": {"type": "line", "strokeWidth": 2.5},
          "encoding": {
            "x": {"field": "t", "type": "quantitative", "scale": {"domain": [2000.75, 2017.09], "nice": false, "zero": false},
              "axis": {"values": [2000.75, 2004.75, 2008.75, 2012.75, 2016.75], "labelExpr": "'Oct-' + slice(toString(floor(datum.value)), 2)", "title": null, "labelPadding": 11, "labelFontSize": 27, "labelFlush": false}},
            "y": {"field": "v", "type": "quantitative", "scale": {"domain": [62, 67], "nice": false, "zero": false},
              "axis": {"values": [62, 63, 64, 65, 66, 67], "title": "%", "titleFontSize": 25, "titleAngle": 0, "titleAlign": "left", "titleBaseline": "alphabetic", "titleX": 4, "titleY": -8, "labelPadding": 17}},
            "color": {"field": "s", "type": "nominal", "scale": {"domain": ["participation rate (lhs)", "unemployment rate (lhs)"], "range": ["#000000", "#E0201B"]},
              "legend": {"orient": "none", "legendX": 155, "legendY": 10, "title": null, "direction": "vertical", "rowPadding": 13.5, "symbolStrokeWidth": 3}}
          }
        },
        {
          "data": {"name": "ur"},
          "mark": {"type": "line", "strokeWidth": 2.5},
          "encoding": {
            "x": {"field": "t", "type": "quantitative"},
            "y": {"field": "v", "type": "quantitative", "scale": {"domain": [4, 8], "nice": false, "zero": false},
              "axis": {"orient": "right", "values": [4, 5, 6, 7, 8], "title": "%", "titleFontSize": 25, "titleAngle": 0, "titleAlign": "right", "titleBaseline": "alphabetic", "titleX": -4, "titleY": -8, "labelPadding": 15}},
            "color": {"field": "s", "type": "nominal", "scale": {"domain": ["participation rate (lhs)", "unemployment rate (lhs)"], "range": ["#000000", "#E0201B"]}}
          }
        },
        {
          "layer": [
            {
              "data": {"values": [{"t": 2008.16, "t2": 2016.75, "v": 65.11, "v2": 65.11}]},
              "mark": {"type": "rule", "color": "#000000", "strokeWidth": 3.5},
              "encoding": {
                "x": {"field": "t", "type": "quantitative"}, "x2": {"field": "t2"},
                "y": {"field": "v", "type": "quantitative", "scale": {"domain": [62, 67], "nice": false, "zero": false}, "axis": null}, "y2": {"field": "v2"}
              }
            },
            {
              "data": {"values": [{"t": 2013.97, "t2": 2016.75, "v": 64.64, "v2": 64.89}]},
              "mark": {"type": "rule", "color": "#999999", "strokeWidth": 3.5},
              "encoding": {
                "x": {"field": "t", "type": "quantitative"}, "x2": {"field": "t2"},
                "y": {"field": "v", "type": "quantitative"}, "y2": {"field": "v2"}
              }
            },
            {
              "data": {"values": [{"t": 2013.70, "t2": 2013.70, "v": 65.79, "v2": 65.27}, {"t": 2015.43, "t2": 2015.74, "v": 65.42, "v2": 64.85}]},
              "mark": {"type": "rule", "color": "#7f7f7f", "strokeWidth": 1.2},
              "encoding": {
                "x": {"field": "t", "type": "quantitative"}, "x2": {"field": "t2"},
                "y": {"field": "v", "type": "quantitative"}, "y2": {"field": "v2"}
              }
            },
            {
              "data": {"values": [{"t": 2013.70, "v": 65.27}]},
              "mark": {"type": "point", "shape": "M-0.5,-1L0,0L0.5,-1", "filled": false, "size": 180, "color": "#7f7f7f", "strokeWidth": 1.2, "opacity": 1},
              "encoding": {"x": {"field": "t", "type": "quantitative"}, "y": {"field": "v", "type": "quantitative"}}
            },
            {
              "data": {"values": [{"t": 2015.74, "v": 64.85}]},
              "mark": {"type": "point", "shape": "M-0.5,-1L0,0L0.5,-1", "filled": false, "size": 180, "angle": -17, "color": "#7f7f7f", "strokeWidth": 1.2, "opacity": 1},
              "encoding": {"x": {"field": "t", "type": "quantitative"}, "y": {"field": "v", "type": "quantitative"}}
            },
            {
              "data": {"values": [
                {"t": 2013.66, "v": 66.48, "txt": "PR average"}, {"t": 2013.66, "v": 66.24, "txt": "since March"}, {"t": 2013.66, "v": 66.0, "txt": "2008"},
                {"t": 2015.55, "v": 66.13, "txt": "PR trend"}, {"t": 2015.55, "v": 65.9, "txt": "since Jan"}, {"t": 2015.55, "v": 65.66, "txt": "2014"}
              ]},
              "mark": {"type": "text", "align": "center", "baseline": "middle", "fontSize": 16.5, "color": "#595959"},
              "encoding": {"x": {"field": "t", "type": "quantitative"}, "y": {"field": "v", "type": "quantitative"}, "text": {"field": "txt"}}
            },
            {
              "data": {"values": [{"t": 2001.1, "v": 62.15, "txt": "Sources: ABS, Westpac Economics"}]},
              "mark": {"type": "text", "align": "left", "baseline": "middle", "fontSize": 16.5, "color": "#595959"},
              "encoding": {"x": {"field": "t", "type": "quantitative"}, "y": {"field": "v", "type": "quantitative"}, "text": {"field": "txt"}}
            }
          ]
        }
      ]
    }
  ]
}
